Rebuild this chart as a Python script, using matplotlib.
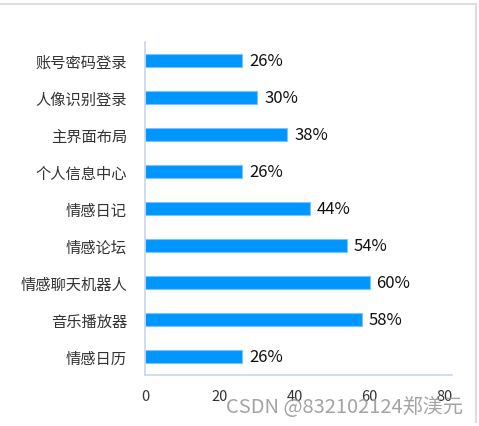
import matplotlib.pyplot as plt
from matplotlib.lines import Line2D

plt.rcParams['font.family'] = ['Noto Sans CJK SC', 'DejaVu Sans']

categories = ['情感日历', '音乐播放器', '情感聊天机器人', '情感论坛', '情感日记',
              '个人信息中心', '主界面布局', '人像识别登录', '账号密码登录']
values = [26, 58, 60, 54, 44, 26, 38, 30, 26]
xticks = [0, 20, 40, 60, 80]

W, H = 479, 427
fig = plt.figure(figsize=(W / 100, H / 100), dpi=100)
ax = fig.add_axes([145 / W, 1 - 376 / H, (452 - 145) / W, (376 - 43) / H])

bars = ax.barh(range(len(categories)), values, height=0.37,
               color='#0096ff', edgecolor='#7cc4ff', linewidth=0.8)
for b, v in zip(bars, values):
    ax.text(b.get_width() + 1.8, b.get_y() + b.get_height() / 2, f'{v}%',
            va='center', ha='left', fontsize=12, color='#111111')

ax.set_yticks(range(len(categories)))
ax.set_yticklabels(categories, fontsize=11, color='#333333')
ax.set_xticks(xticks)
ax.set_xticklabels([str(t) for t in xticks], fontsize=10.5, color='#333333')
ax.set_xlim(0, 82)
ax.set_ylim(-0.5, len(categories) - 0.5)
ax.tick_params(axis='both', length=0)
ax.tick_params(axis='y', pad=13)
ax.tick_params(axis='x', pad=10)
for s in ['top', 'right']:
    ax.spines[s].set_visible(False)
for s in ['left', 'bottom']:
    ax.spines[s].set_color('#c8d6ee')
    ax.spines[s].set_linewidth(1.2)

# outer frame lines
fig.add_artist(Line2D([0, 476 / W], [1 - 5 / H, 1 - 5 / H], color='#dddddd', lw=1.5))
fig.add_artist(Line2D([476 / W, 476 / W], [1 - 5 / H, 1 - 423 / H], color='#dddddd', lw=1.5))

fig.text(226 / W, 1 - 408 / H, 'CSDN @832102124郑渼元', fontsize=14.5,
         color='#9a9a9a', va='center', ha='left', alpha=0.9)

fig.savefig('out.png', dpi=100)
